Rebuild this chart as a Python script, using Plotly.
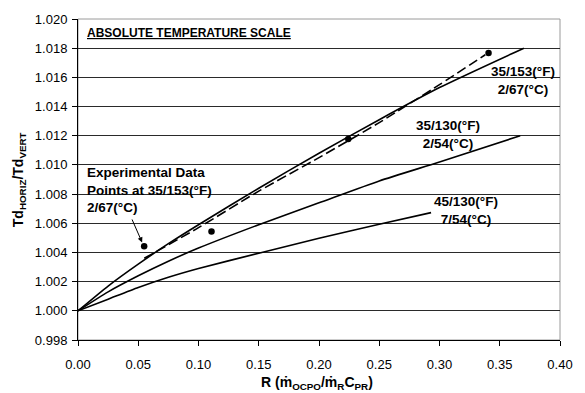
import plotly.graph_objects as go

# ---- data ----
x_c1 = [0.0, 0.025, 0.05, 0.075, 0.10, 0.15, 0.20, 0.25, 0.30, 0.37]
y_c1 = [1.000, 1.0017, 1.0032, 1.0046, 1.0059, 1.0084, 1.0108, 1.0131, 1.0153, 1.0180]

x_c2 = [0.0, 0.025, 0.05, 0.075, 0.10, 0.15, 0.20, 0.25, 0.30, 0.367]
y_c2 = [1.000, 1.0013, 1.0024, 1.0034, 1.0043, 1.0059, 1.0074, 1.0089, 1.0102, 1.0120]

x_c3 = [0.0, 0.025, 0.05, 0.075, 0.10, 0.15, 0.20, 0.25, 0.293]
y_c3 = [1.000, 1.0008, 1.0016, 1.0023, 1.0029, 1.00395, 1.00497, 1.00593, 1.00673]

x_fit = [0.055, 0.10, 0.15, 0.20, 0.25, 0.30, 0.338]
y_fit = [1.0036, 1.0057, 1.0082, 1.0105, 1.0129, 1.0155, 1.01755]

x_exp = [0.0549, 0.1108, 0.2243, 0.3407]
y_exp = [1.00442, 1.00544, 1.01177, 1.01767]

x_ticks = [0.00, 0.05, 0.10, 0.15, 0.20, 0.25, 0.30, 0.35, 0.40]
y_ticks = [0.998, 1.000, 1.002, 1.004, 1.006, 1.008, 1.010, 1.012, 1.014, 1.016, 1.018, 1.020]

FONT = "Liberation Sans, Arial, sans-serif"

fig = go.Figure()
line_style = dict(color="black", width=1.6, shape="spline", smoothing=0.6)
for xs, ys in [(x_c1, y_c1), (x_c2, y_c2), (x_c3, y_c3)]:
    fig.add_trace(go.Scatter(x=xs, y=ys, mode="lines", line=line_style, hoverinfo="skip"))
fig.add_trace(go.Scatter(x=x_fit, y=y_fit, mode="lines",
                         line=dict(color="black", width=1.6, dash="10px,4px", shape="spline",
                                   smoothing=0.6),
                         hoverinfo="skip"))
fig.add_trace(go.Scatter(x=x_exp, y=y_exp, mode="markers",
                         marker=dict(color="black", size=6.5), hoverinfo="skip"))

# plot frame (grey top/right)
fig.add_shape(type="rect", xref="paper", yref="paper", x0=0, x1=1, y0=0, y1=1,
              line=dict(color="#9a9a9a", width=1), layer="below")

ann = []
def txt(x, y, t, xanchor="center", align="center", size=13.5, xref="x", yref="y", angle=0):
    ann.append(dict(x=x, y=y, xref=xref, yref=yref, text=t, showarrow=False,
                    xanchor=xanchor, yanchor="middle", align=align, textangle=angle,
                    font=dict(family=FONT, size=size, color="black")))

txt(0.0054, 1.01905, "<b><u>ABSOLUTE TEMPERATURE SCALE</u></b>", xanchor="left", align="left", size=12)
txt(0.0054, 1.00831, "<b>Experimental Data<br>Points at 35/153(°F)<br>2/67(°C)</b>",
    xanchor="left", align="left")
txt(0.3697, 1.01578, "<b>35/153(°F)<br>2/67(°C)</b>")
txt(0.3069, 1.01207, "<b>35/130(°F)<br>2/54(°C)</b>")
txt(0.3223, 1.00685, "<b>45/130(°F)<br>7/54(°C)</b>")
txt(-0.123, 0.5, "<b>Td<sub>HORIZ</sub>/Td<sub>VERT</sub></b>", xref="paper", yref="paper",
    size=14, angle=-90)
txt(0.495, -0.134, "<b>R (ṁ<sub>OCPO</sub>/ṁ<sub>R</sub>C<sub>PR</sub>)</b>", xref="paper", yref="paper",
    size=14)

ann.append(dict(x=0.0532, y=1.00469, xref="x", yref="y", ax=-10.7, ay=-24.4,
                text="", showarrow=True, arrowhead=2, arrowsize=1, arrowwidth=1,
                arrowcolor="black"))

fig.update_layout(
    width=585, height=393,
    margin=dict(l=78, r=13, t=17, b=53),
    paper_bgcolor="white", plot_bgcolor="white",
    showlegend=False,
    annotations=ann,
    font=dict(family=FONT, size=13, color="black"),
    xaxis=dict(range=[0, 0.40], tickvals=x_ticks, ticktext=[f"{v:.2f}" for v in x_ticks],
               showgrid=False, zeroline=False, showline=True, linecolor="black", linewidth=1,
               ticks="outside", ticklen=5, tickcolor="black", tickwidth=1, ticklabelstandoff=7,
               tickfont=dict(family=FONT, size=13, color="black")),
    yaxis=dict(range=[0.998, 1.020], tickvals=y_ticks, ticktext=[f"{v:.3f}" for v in y_ticks],
               showgrid=True, gridcolor="#2a2a2a", gridwidth=1, zeroline=False,
               showline=True, linecolor="black", linewidth=1,
               ticks="outside", ticklen=5, tickcolor="black", tickwidth=1, ticklabelstandoff=2,
               tickfont=dict(family=FONT, size=13, color="black")),
)

fig.write_html("out.html", config={"displayModeBar": False})

# remove the default page margin so the figure sits at the window origin
with open("out.html", "r", encoding="utf-8") as f:
    html = f.read()
html = html.replace("<head>", "<head><style>html,body{margin:0;padding:0;overflow:hidden;}</style>", 1)
with open("out.html", "w", encoding="utf-8") as f:
    f.write(html)
